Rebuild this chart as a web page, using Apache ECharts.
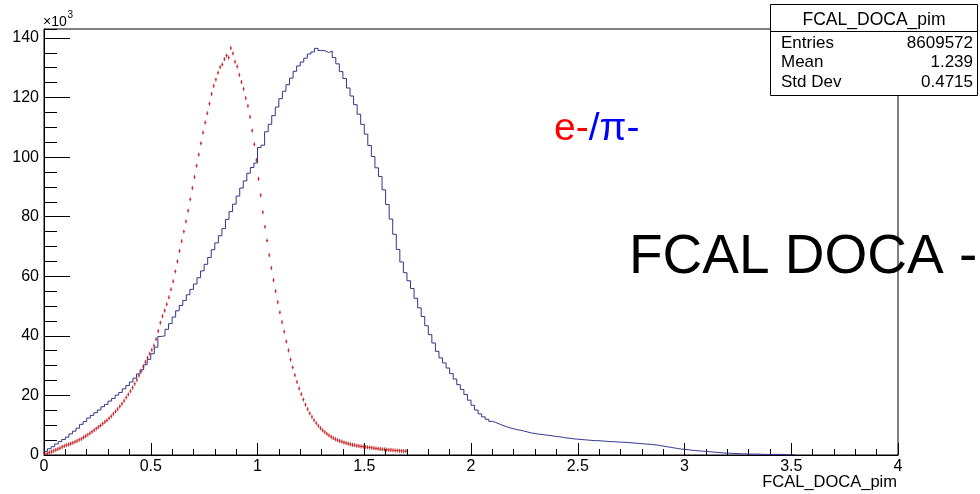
<!DOCTYPE html>
<html><head><meta charset="utf-8">
<script src="https://cdn.jsdelivr.net/npm/echarts@6/dist/echarts.min.js"></script>
<style>html,body{margin:0;padding:0;background:#fff}#c{width:980px;height:494px}</style>
</head><body><div id="c"></div>
<script>
// ---- data (counts in thousands) ----
const blueBinStart = 0;
const blueBinWidth = 1 / 60;
const blueCounts = [
  1.2,2.1,2.8,3.7,4.5,5.2,6.0,7.1,8.0,9.0,
  10.3,11.2,12.4,13.3,14.2,15.1,16.2,17.0,18.1,19.0,
  20.1,21.0,22.2,23.3,24.5,25.8,27.2,28.6,30.3,32.1,
  34.0,36.2,39.8,40.0,42.2,44.1,46.3,48.4,50.2,51.9,
  53.8,55.6,57.4,59.5,61.8,64.0,66.3,68.9,71.2,73.6,
  76.0,79.1,81.7,84.2,86.9,89.6,92.0,94.6,96.5,98.0,
  103.2,104.0,108.5,111.0,113.9,116.8,119.6,122.1,124.3,126.5,
  128.8,130.6,131.9,133.2,134.6,135.3,136.5,135.8,135.7,135.1,
  135.6,133.4,131.3,128.7,126.4,123.2,120.5,117.6,114.4,111.0,
  107.7,103.9,100.2,96.4,93.5,89.0,84.1,79.2,74.1,69.0,
  64.8,61.2,58.5,55.9,52.6,49.4,46.5,43.4,40.4,37.6,
  34.8,32.6,30.9,29.2,27.3,25.5,23.6,22.0,20.3,18.4,
  16.7,15.1,13.8,12.8,12.0,11.3,10.9,10.4,9.9,9.5,
  9.1,8.8,8.5,8.3,8.0,7.7,7.4,7.2,7.0,6.9,
  6.7,6.6,6.4,6.2,6.1,5.9,5.7,5.6,5.4,5.3,
  5.2,5.1,5.0,4.9,4.8,4.8,4.7,4.6,4.5,4.5,
  4.4,4.3,4.3,4.2,4.1,4.0,3.9,3.8,3.7,3.6,
  3.5,3.4,3.2,3.0,2.8,2.6,2.4,2.2,2.0,1.9,
  1.8,1.6,1.5,1.4,1.3,1.2,1.1,1.0,0.9,0.8,
  0.7,0.6,0.6,0.5,0.5,0.4,0.4,0.3,0.3,0.3,
  0.3,0.2,0.2,0.2,0.2,0.2,0.2,0.2,0.1,0.1,0.1
];
const redBinStart = 0;
const redBinWidth = 0.01;
const redCounts = [
  0.2,0.5,0.8,1.1,1.4,1.7,2.0,2.3,2.7,3.0,
  3.3,3.5,3.8,4.1,4.4,4.7,5.1,5.4,5.9,6.3,
  6.8,7.3,7.8,8.3,8.9,9.4,9.9,10.5,11.1,11.6,
  12.3,13.0,13.8,14.6,15.4,16.3,17.2,18.2,19.3,20.3,
  21.4,22.6,23.9,25.2,26.6,28.1,29.6,31.2,32.6,34.0,
  35.3,36.7,38.9,41.6,44.4,46.6,48.5,50.6,52.9,55.6,
  58.3,61.6,65.0,68.5,71.8,75.0,78.4,82.0,85.8,89.6,
  93.3,97.1,100.8,104.6,108.2,111.6,114.7,117.9,121.2,123.9,
  126.0,128.3,130.2,131.1,132.9,134.1,133.4,136.6,134.8,132.0,
  130.4,127.6,125.2,122.9,119.8,117.2,113.5,108.9,104.3,99.0,
  92.7,87.2,81.5,76.6,72.0,67.1,62.8,58.7,55.0,51.3,
  47.9,44.6,41.4,38.1,35.1,32.0,29.4,26.8,24.5,22.3,
  20.4,18.6,16.9,15.4,14.0,12.8,11.7,10.7,9.8,9.0,
  8.3,7.7,7.1,6.6,6.1,5.7,5.3,5.0,4.7,4.5,
  4.2,4.0,3.8,3.6,3.4,3.3,3.1,3.0,2.9,2.8,
  2.7,2.6,2.5,2.4,2.3,2.2,2.1,2.0,1.9,1.9,
  1.8,1.7,1.7,1.6,1.5,1.5,1.4,1.4,1.3,1.3
];
const xMin = 0, xMax = 4, xInterval = 0.5;
const yMin = 0, yMax = 143, yInterval = 20, yMinorInterval = 5;
const xTitle = 'FCAL_DOCA_pim';
const yExpBase = '\u00d710', yExp = '3';
const statsTitle = 'FCAL_DOCA_pim';
const statsLabels = ['Entries', 'Mean', 'Std Dev'];
const statsValues = ['8609572', '1.239', '0.4715'];
const bigLabel = 'FCAL DOCA -';

// ---- build ----
const blueData = blueCounts.map((v, i) => [blueBinStart + i * blueBinWidth, v]);
blueData.push([blueBinStart + blueCounts.length * blueBinWidth, blueCounts[blueCounts.length - 1]]);
const redData = redCounts.map((v, i) => [redBinStart + (i + 0.5) * redBinWidth, v]);

const FONT = "'Liberation Sans', Arial, Helvetica, sans-serif";
const BLUE = '#33358c', RED = '#c41818', AX = '#000';

const chart = echarts.init(document.getElementById('c'), null, {renderer: 'canvas'});
const statsRowY = [43.3, 62.5, 82.5];
const SF = '17px ' + FONT;
const graphics = [
  {type: 'rect', shape: {x: 770.5, y: 4.5, width: 207, height: 91}, style: {fill: '#fff', stroke: '#000', lineWidth: 1}, z: 10},
  {type: 'line', shape: {x1: 770.5, y1: 31.5, x2: 977.5, y2: 31.5}, style: {stroke: '#000', lineWidth: 1}, z: 11},
  {type: 'text', x: 874, y: 20, style: {text: statsTitle, font: '17.5px ' + FONT, fill: '#000', align: 'center', verticalAlign: 'middle'}, z: 11},
  {type: 'text', x: 43, y: 22, style: {text: yExpBase, font: '14px ' + FONT, fill: '#000', align: 'left', verticalAlign: 'middle'}, z: 11},
  {type: 'text', x: 67.5, y: 15.5, style: {text: yExp, font: '10px ' + FONT, fill: '#000', align: 'left', verticalAlign: 'middle'}, z: 11},
  {type: 'text', x: 897, y: 482.5, style: {text: xTitle, font: '16.5px ' + FONT, fill: '#000', align: 'right', verticalAlign: 'middle'}, z: 11},
  {type: 'text', x: 554, y: 129.4, style: {
    text: '{r|e-}{b|/\u03c0-}', font: '39px ' + FONT, align: 'left', verticalAlign: 'middle',
    rich: {r: {fill: '#ff0000', font: '39px ' + FONT}, b: {fill: '#0000ff', font: '39px ' + FONT}}
  }, z: 11},
  {type: 'text', x: 629, y: 257.6, style: {text: bigLabel, font: '55px ' + FONT, fill: '#000', align: 'left', verticalAlign: 'middle'}, z: 1}
];
statsLabels.forEach((l, k) => {
  graphics.push({type: 'text', x: 781, y: statsRowY[k], style: {text: l, font: SF, fill: '#000', align: 'left', verticalAlign: 'middle'}, z: 11});
  graphics.push({type: 'text', x: 973, y: statsRowY[k], style: {text: statsValues[k], font: SF, fill: '#000', align: 'right', verticalAlign: 'middle'}, z: 11});
});

chart.setOption({
  animation: false,
  backgroundColor: '#fff',
  grid: {left: 44, right: 82, top: 29, bottom: 39, show: true, borderColor: AX, borderWidth: 1, backgroundColor: 'transparent', containLabel: false},
  xAxis: {
    type: 'value', min: xMin, max: xMax, interval: xInterval,
    axisLine: {show: true, onZero: false, lineStyle: {color: AX, width: 1}},
    axisTick: {show: true, inside: true, length: 12, lineStyle: {color: AX, width: 1}},
    minorTick: {show: true, splitNumber: 5, length: 6, lineStyle: {color: AX, width: 1}},
    axisLabel: {show: true, margin: 4, color: '#000', fontFamily: FONT, fontSize: 16},
    splitLine: {show: false}, minorSplitLine: {show: false}
  },
  yAxis: [{
    type: 'value', min: yMin, max: yMax, interval: yInterval, position: 'left',
    axisLine: {show: true, onZero: false, lineStyle: {color: AX, width: 1}},
    axisTick: {show: true, inside: true, length: 26, lineStyle: {color: AX, width: 1}},
    axisLabel: {show: true, margin: 5, color: '#000', fontFamily: FONT, fontSize: 16, showMaxLabel: false,
      formatter: v => (Math.abs(v % yInterval) < 1e-9 ? String(v) : '')},
    splitLine: {show: false}
  }, {
    type: 'value', min: yMin, max: yMax, interval: yMinorInterval, position: 'left', offset: 0,
    axisLine: {show: false},
    axisTick: {show: true, inside: true, length: 13, lineStyle: {color: AX, width: 1}},
    axisLabel: {show: false},
    splitLine: {show: false}
  }],
  graphic: graphics,
  series: [{
    type: 'line', xAxisIndex: 0, yAxisIndex: 0, data: blueData, step: 'end', showSymbol: false, symbol: 'none',
    lineStyle: {color: BLUE, width: 1}, clip: true, z: 3
  }, {
    type: 'custom', xAxisIndex: 0, yAxisIndex: 0, data: redData, clip: true, z: 4,
    renderItem: function (params, api) {
      const p = api.coord([api.value(0), api.value(1)]);
      const hw = api.size([redBinWidth, 0])[0] / 2;
      return {type: 'group', children: [
        {type: 'line', shape: {x1: p[0], y1: p[1] - 2, x2: p[0], y2: p[1] + 2}, style: {stroke: RED, lineWidth: 0.9}},
        {type: 'line', shape: {x1: p[0] - hw, y1: p[1], x2: p[0] + hw, y2: p[1]}, style: {stroke: RED, lineWidth: 0.9}}
      ]};
    }
  }]
});
</script>
</body></html>
